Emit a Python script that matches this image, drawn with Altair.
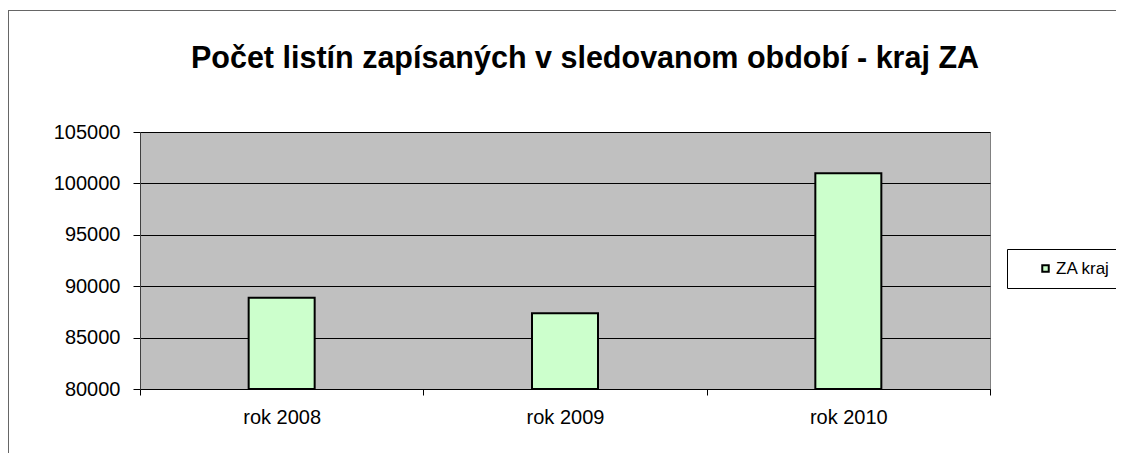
import altair as alt
import pandas as pd

categories = ["rok 2008", "rok 2009", "rok 2010"]
values = [88880, 87360, 100980]
series_name = "ZA kraj"
y_ticks = [80000, 85000, 90000, 95000, 100000, 105000]
y_min = 80000
y_max = 105000
title_text = "Počet listín zapísaných v sledovanom období - kraj ZA"

df = pd.DataFrame({"kategoria": categories, "hodnota": values, "seria": [series_name] * len(categories)})

FONT = "Liberation Sans"

bars = alt.Chart(df).mark_bar(size=66, stroke="black", strokeWidth=2).encode(
    x=alt.X("kategoria:N", sort=categories, title=None,
            scale=alt.Scale(paddingInner=0, paddingOuter=0),
            axis=alt.Axis(labelAngle=0, tickBand="extent", tickSize=6, labelPadding=12,
                          labelFontSize=20, domainColor="black", tickColor="black", grid=False)),
    y=alt.Y("hodnota:Q", title=None,
            scale=alt.Scale(domain=[y_min, y_max], zero=False, nice=False),
            axis=alt.Axis(values=y_ticks, format="d", tickSize=7, labelPadding=13,
                          labelFontSize=20, grid=True, gridColor="black", gridWidth=1,
                          domainColor="#404040", tickColor="black")),
    y2=alt.datum(y_min),
    color=alt.Color("seria:N", scale=alt.Scale(range=["#CCFFCC"]),
                    legend=alt.Legend(title=None, orient="none", legendX=867, legendY=117,
                                      symbolType="square", symbolSize=42,
                                      symbolStrokeColor="black", symbolStrokeWidth=2,
                                      symbolOffset=19, labelOffset=2,
                                      labelFontSize=17, labelFont=FONT, labelColor="black",
                                      strokeColor="black", fillColor="white", padding=11)),
)

border_data = alt.Data(values=[{"a": 1}])
top_border = alt.Chart(border_data).mark_rule(color="#666666", strokeWidth=1).encode(
    x=alt.value(-132), x2=alt.value(976), y=alt.value(-121.5))
left_border = alt.Chart(border_data).mark_rule(color="#666666", strokeWidth=1).encode(
    x=alt.value(-131.5), y=alt.value(-121.5), y2=alt.value(321))

chart = alt.layer(top_border, left_border, bars).properties(
    width=850, height=257,
    autosize=alt.AutoSizeParams(type="none"),
    padding={"left": 132, "top": 124, "right": 126, "bottom": 64},
    title=alt.TitleParams(text=title_text, font=FONT, fontSize=30.5, fontWeight="bold",
                          color="black", anchor="middle", frame="group", dx=20,
                          baseline="alphabetic", offset=0, dy=88),
    background="white",
).configure_view(
    fill="#C0C0C0", stroke="#808080", strokeWidth=1
).configure_axis(
    labelFont=FONT, labelColor="black"
)

chart.save("out.html", embed_options={"renderer": "svg", "actions": False})
